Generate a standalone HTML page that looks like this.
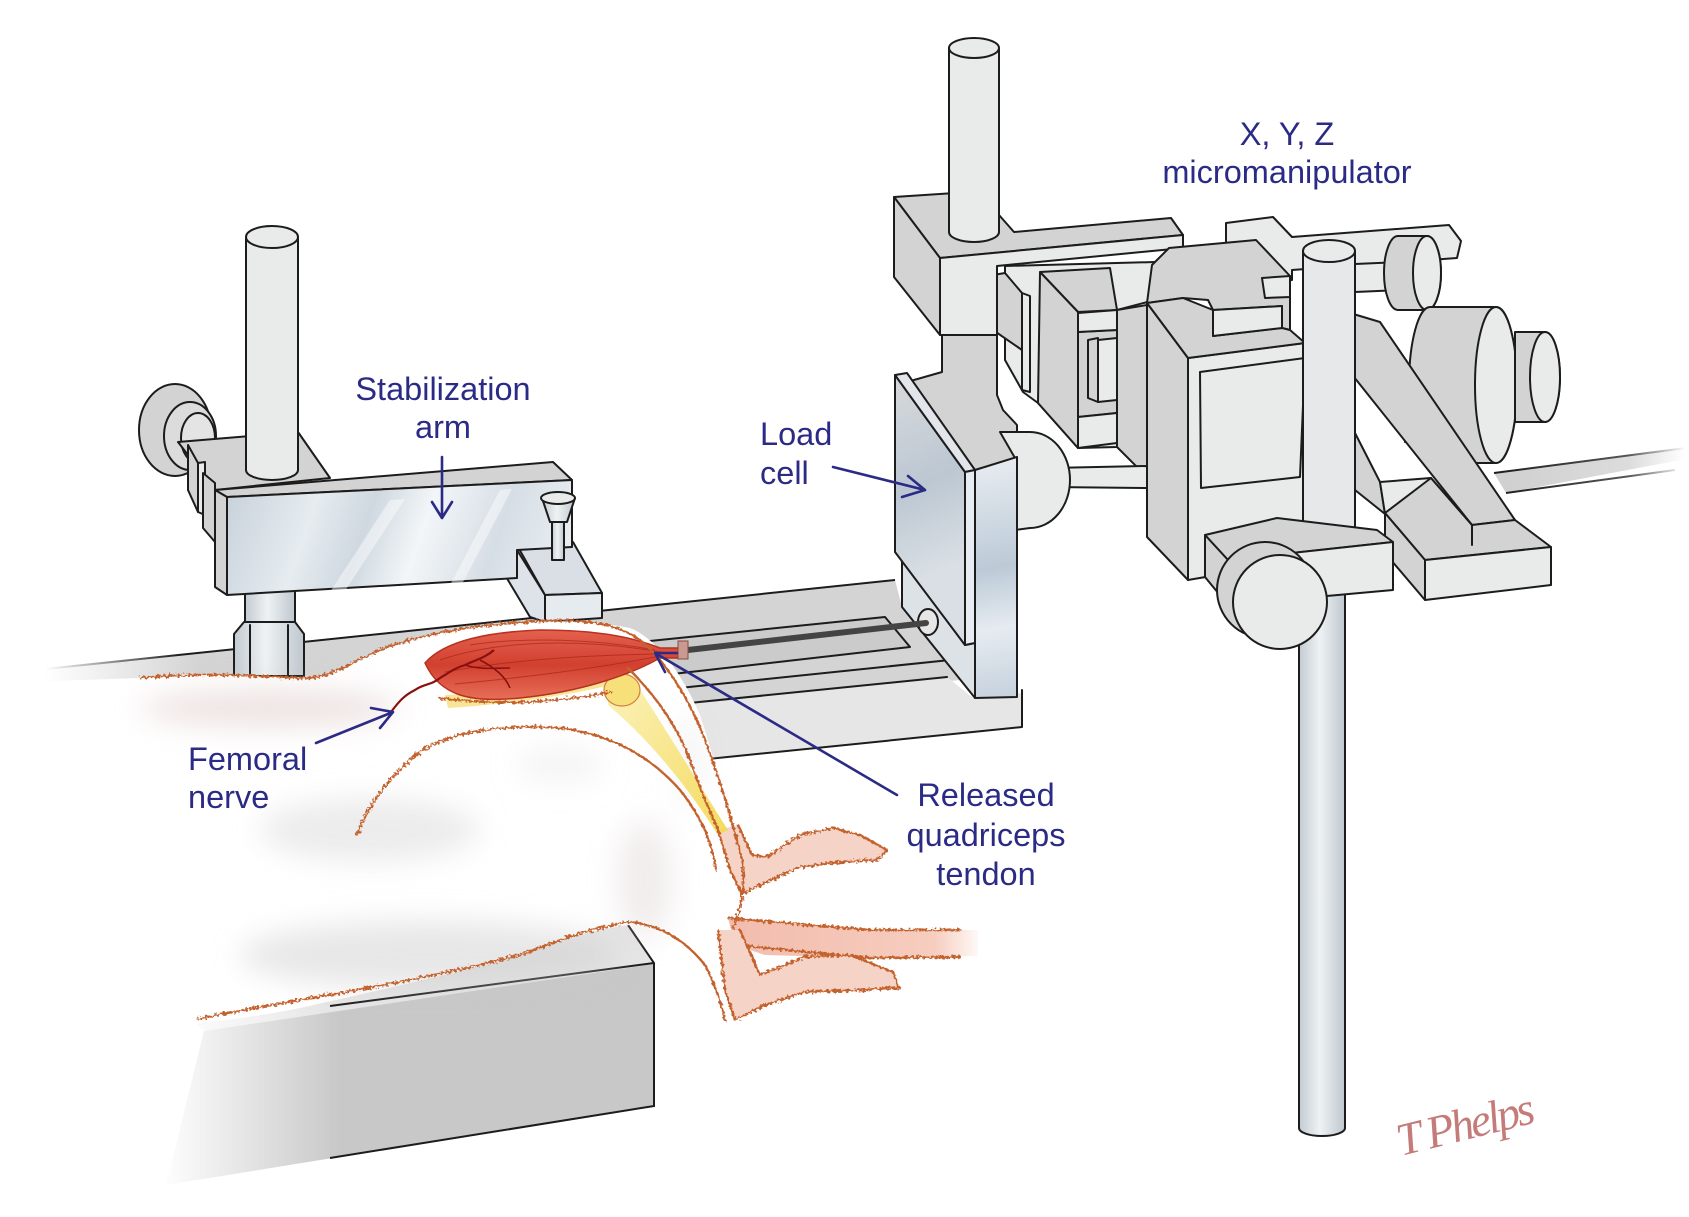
<!DOCTYPE html>
<html><head><meta charset="utf-8">
<style>
html,body{margin:0;padding:0;background:#fff;}
svg{display:block;}
.o{stroke:#1c1c1c;stroke-width:2;stroke-linejoin:round;stroke-linecap:round;}
.l{fill:#e9eaea;}
.m{fill:#d3d3d3;}
.d{fill:#c9c9c9;}
.lab{font-family:"Liberation Sans",Arial,sans-serif;font-size:32.5px;fill:#2b2b86;}
.arr{stroke:#2b2b86;stroke-width:2.6;fill:none;stroke-linecap:round;stroke-linejoin:round;}
.fur{fill:none;stroke:#c4622e;stroke-width:2.4;stroke-linecap:round;}
</style></head>
<body>
<svg width="1689" height="1217" viewBox="0 0 1689 1217" xmlns="http://www.w3.org/2000/svg">
<defs>
<linearGradient id="tblFade" gradientUnits="userSpaceOnUse" x1="160" y1="0" x2="340" y2="0"><stop offset="0" stop-color="#fff"/><stop offset="1" stop-color="#c8c8c8"/></linearGradient>
<linearGradient id="tblTop" gradientUnits="userSpaceOnUse" x1="170" y1="0" x2="330" y2="0"><stop offset="0" stop-color="#fff"/><stop offset="1" stop-color="#e6e6e6"/></linearGradient>
<linearGradient id="plateFade" gradientUnits="userSpaceOnUse" x1="45" y1="0" x2="200" y2="0"><stop offset="0" stop-color="#fff"/><stop offset="1" stop-color="#d4d4d4"/></linearGradient>
<linearGradient id="lineFade" gradientUnits="userSpaceOnUse" x1="45" y1="0" x2="180" y2="0"><stop offset="0" stop-color="#fff"/><stop offset="1" stop-color="#1c1c1c"/></linearGradient>
<linearGradient id="steel" gradientUnits="userSpaceOnUse" x1="227" y1="480" x2="572" y2="600">
<stop offset="0" stop-color="#c7d1da"/><stop offset="0.25" stop-color="#e6ecf0"/><stop offset="0.4" stop-color="#cfd8e0"/><stop offset="0.55" stop-color="#f3f6f8"/><stop offset="0.75" stop-color="#d6dee5"/><stop offset="1" stop-color="#eef2f5"/></linearGradient>
<linearGradient id="cyl" x1="0" y1="0" x2="1" y2="0"><stop offset="0" stop-color="#c3cbd2"/><stop offset="0.45" stop-color="#eef2f4"/><stop offset="1" stop-color="#bfc7ce"/></linearGradient>
<linearGradient id="lcPlate" gradientUnits="userSpaceOnUse" x1="895" y1="400" x2="965" y2="560"><stop offset="0" stop-color="#d2d6da"/><stop offset="0.5" stop-color="#bcc7d2"/><stop offset="1" stop-color="#d9dfe4"/></linearGradient>
<linearGradient id="lcBlock" gradientUnits="userSpaceOnUse" x1="975" y1="460" x2="1017" y2="700"><stop offset="0" stop-color="#e8edf1"/><stop offset="0.45" stop-color="#bccad7"/><stop offset="0.7" stop-color="#e6ebf0"/><stop offset="1" stop-color="#c4d0dc"/></linearGradient>
<linearGradient id="cable" gradientUnits="userSpaceOnUse" x1="1494" y1="0" x2="1686" y2="0"><stop offset="0" stop-color="#cfcfcf"/><stop offset="0.7" stop-color="#dcdcdc"/><stop offset="1" stop-color="#fff"/></linearGradient>
<linearGradient id="cableS" gradientUnits="userSpaceOnUse" x1="1494" y1="0" x2="1686" y2="0"><stop offset="0" stop-color="#1c1c1c"/><stop offset="0.7" stop-color="#555"/><stop offset="1" stop-color="#fff"/></linearGradient>
<linearGradient id="muscle" x1="0" y1="0" x2="0" y2="1"><stop offset="0" stop-color="#e4604e"/><stop offset="0.5" stop-color="#d2402f"/><stop offset="1" stop-color="#e66e58"/></linearGradient>
<linearGradient id="tail" gradientUnits="userSpaceOnUse" x1="730" y1="0" x2="985" y2="0"><stop offset="0" stop-color="#f2bcad"/><stop offset="0.8" stop-color="#f6cdbf"/><stop offset="1" stop-color="#fff"/></linearGradient>
<linearGradient id="bone" x1="0" y1="0" x2="1" y2="1"><stop offset="0" stop-color="#fbf0b0"/><stop offset="1" stop-color="#f3d84e"/></linearGradient>
<filter id="blur" x="-50%" y="-50%" width="200%" height="200%"><feGaussianBlur stdDeviation="14"/></filter>
<filter id="fur" x="-10%" y="-10%" width="120%" height="120%"><feTurbulence type="fractalNoise" baseFrequency="0.35" numOctaves="2" seed="3"/><feDisplacementMap in="SourceGraphic" scale="6"/></filter>
</defs>

<rect width="1689" height="1217" fill="#fff"/>

<!-- ===== right cable ===== -->
<polygon points="1494,473 1686,448 1686,459 1506,493" fill="url(#cable)"/>
<polyline points="1494,473 1686,448" fill="none" stroke="url(#cableS)" stroke-width="2"/>
<polyline points="1506,493 1675,470" fill="none" stroke="url(#cableS)" stroke-width="2"/>

<!-- ===== back rod + knobs ===== -->
<polygon class="o l" points="1226,223 1273,217 1292,237 1449,225 1461,241 1457,258 1292,270 1292,280 1240,282 1226,250"/>
<polygon class="o l" points="1355,264 1400,262 1400,290 1355,292"/>
<path class="o m" d="M1398,236 L1427,236 A14,37 0 0 1 1427,310 L1398,310 A14,37 0 0 1 1398,236 Z"/>
<ellipse class="o l" cx="1427" cy="273" rx="14" ry="37"/>
<rect class="o m" x="1405" y="392" width="75" height="50"/>
<path class="o m" d="M1430,307 L1496,307 A21,78 0 0 1 1496,463 L1430,463 A21,78 0 0 1 1430,307 Z"/>
<ellipse class="o l" cx="1496" cy="385" rx="21" ry="78"/>
<path class="o m" d="M1515,332 L1545,332 A15,45 0 0 1 1545,422 L1515,422 Z"/>
<ellipse class="o l" cx="1545" cy="377" rx="15" ry="45"/>

<!-- ===== rail ===== -->
<polygon class="o m" points="1350,313 1380,322 1515,520 1472,525 1350,372"/>
<polygon class="o m" points="1355,433 1380,482 1385,514 1355,490"/>
<polygon class="o l" points="1380,482 1431,478 1431,510 1385,514"/>
<polygon class="o m" points="1385,513 1431,478 1472,525 1515,520 1551,547 1425,560"/>
<polygon class="o m" points="1385,513 1425,560 1425,600 1385,553"/>
<polygon class="o l" points="1425,560 1551,547 1551,585 1425,600"/>
<polyline class="o" fill="none" points="1431,478 1472,525 1472,545"/>

<!-- ===== frame pieces left of main block ===== -->
<polygon class="o l" points="1005,266 1155,262 1155,300 1117,310 1117,447 1078,448 1038,403 1023,392 1005,360"/>
<polygon class="o m" points="993,275 1005,273 1022,293 1022,350 993,330"/>
<polygon class="o l" points="1022,293 1030,296 1030,392 1022,390"/>
<polygon class="o m" points="1040,272 1110,268 1117,310 1078,312"/>
<polygon class="o m" points="1040,272 1078,312 1078,448 1038,403"/>
<polygon class="o m" points="1078,332 1117,330 1117,413 1078,417"/>
<polygon class="o l" points="1078,313 1117,310 1117,330 1078,332"/>
<polygon class="o l" points="1078,417 1117,413 1117,443 1078,448"/>
<polygon class="o m" points="1088,340 1098,338 1098,402 1088,398"/>
<polygon class="o l" points="1098,340 1117,338 1117,400 1098,402"/>
<polygon class="o m" points="1117,310 1147,305 1147,477 1117,447"/>

<!-- ===== load cell cable ===== -->
<polygon class="o l" points="1050,468 1147,466 1147,488 1050,487"/>

<!-- ===== upper L block + post ===== -->
<polygon class="o m" points="894,197 955,193 999,215 1014,232 1171,218 1183,235 940,258"/>
<polygon class="o l" points="940,258 1183,235 1183,248 997,266 997,335 940,335"/>
<polygon class="o m" points="894,197 940,258 940,335 894,277"/>
<path class="o l" d="M949,48 L999,48 L999,232 A25,10 0 0 1 949,232 Z"/>
<ellipse class="o l" cx="974" cy="48" rx="25" ry="10"/>

<!-- ===== main block ===== -->
<polygon class="o m" points="1147,303 1188,358 1188,580 1147,537"/>
<polygon class="o l" points="1188,358 1305,343 1305,560 1188,580"/>
<polygon class="o l" points="1200,372 1305,358 1300,477 1201,488"/>
<polygon class="o m" points="1152,265 1169,248 1256,240 1290,276 1290,330 1282,328 1282,306 1213,310 1208,300 1183,298 1147,303"/>
<polygon class="o m" points="1147,303 1183,298 1213,310 1213,336 1282,328 1290,330 1305,343 1188,358"/>
<polygon class="o l" points="1213,310 1282,306 1282,328 1213,336"/>
<polygon class="o l" points="1262,278 1290,276 1290,297 1265,298"/>

<!-- ===== lower rod ===== -->
<path d="M1299,540 L1345,540 L1345,1128 A23,8 0 0 1 1299,1128 Z" fill="url(#cyl)" class="o"/>

<!-- ===== post ===== -->
<path d="M1303,251 L1355,251 L1355,533 A26,10 0 0 1 1303,533 Z" fill="#e6e8e9" class="o"/>
<ellipse class="o l" cx="1329" cy="251" rx="26" ry="11"/>

<!-- ===== bottom clamp ===== -->
<polygon class="o m" points="1205,535 1277,518 1377,530 1393,542 1228,560"/>
<polygon class="o l" points="1228,560 1393,542 1393,590 1228,605"/>
<polygon class="o m" points="1205,535 1228,560 1228,605 1205,577"/>
<circle class="o m" cx="1265" cy="590" r="48"/>
<circle class="o l" cx="1280" cy="602" r="47"/>

<!-- ===== base plate ===== -->
<polygon points="45,669 895,580 902,607 960,680 45,775" fill="url(#plateFade)"/>
<polygon points="600,712 947,677 973,698 1022,693 1022,727 600,770" fill="#e6e6e6"/>
<polyline points="45,669 895,580" fill="none" stroke="url(#lineFade)" stroke-width="2"/>
<polyline class="o" fill="none" points="600,712 947,677"/>
<polyline class="o" fill="none" points="600,770 1022,727 1022,690"/>
<polygon class="o" fill="#cbcbcb" points="640,642 885,617 910,647 655,676"/>
<polyline class="o" fill="none" points="660,690 950,660"/>

<!-- ===== load cell ===== -->
<polygon class="o m" points="942,335 997,335 997,395 1003,410 1017,425 1017,458 975,470 907,382 942,372"/>
<path class="o l" d="M1000,432 L1030,432 A40,48 0 0 1 1030,528 L1015,530 L1015,458 Z"/>
<polygon class="o" fill="url(#lcBlock)" points="975,470 1017,457 1017,697 975,698"/>
<polygon class="o" fill="#dde2e6" points="902,560 965,645 975,643 975,698 902,607"/>
<polygon class="o" fill="url(#lcPlate)" points="895,375 965,472 965,645 895,552"/>
<polygon class="o" fill="#e2e6ea" points="895,375 907,373 975,470 965,472"/>
<polygon class="o" fill="#e6ecf1" points="965,472 975,470 975,643 965,645"/>
<ellipse class="o" fill="#e6e6e6" cx="928" cy="622" rx="10" ry="13"/>

<!-- rod -->
<line x1="688" y1="650" x2="926" y2="623" stroke="#444" stroke-width="6" stroke-linecap="round"/>

<!-- ===== stabilization structure ===== -->
<ellipse class="o m" cx="175" cy="430" rx="36" ry="46"/>
<ellipse class="o" fill="#dcdcdc" cx="190" cy="436" rx="26" ry="34"/>
<ellipse class="o" fill="#e4e4e4" cx="198" cy="438" rx="17" ry="25"/>
<polygon class="o m" points="178,442 298,432 330,478 215,490"/>
<polygon class="o m" points="188,445 198,463 198,512 188,490"/>
<polygon class="o l" points="198,463 205,462 205,515 198,512"/>
<polygon class="o m" points="203,473 215,483 215,542 203,528"/>
<path class="o l" d="M246,237 L298,237 L298,470 A26,10 0 0 1 246,470 Z"/>
<ellipse class="o l" cx="272" cy="237" rx="26" ry="11"/>
<!-- support cylinder + hex nut -->
<rect x="245" y="590" width="50" height="40" fill="url(#cyl)" class="o"/>
<polygon class="o" fill="url(#cyl)" points="234,634 244,622 295,622 304,634 304,676 234,676"/>
<line class="o" x1="250" y1="625" x2="250" y2="676"/><line class="o" x1="288" y1="625" x2="288" y2="676"/>
<!-- foot -->
<polygon class="o" fill="#dde3e8" points="502,570 517,550 545,595 545,622 530,617"/>
<polygon class="o" fill="#d9dfe4" points="518,547 573,542 602,593 545,595"/>
<polygon class="o" fill="#e6ebef" points="545,595 602,593 602,618 545,622"/>
<!-- bar -->
<polygon class="o m" points="215,490 553,462 572,480 227,497"/>
<polygon class="o" fill="url(#steel)" points="227,497 572,480 572,547 517,550 517,578 227,595"/>
<polygon points="330,592 390,500 405,499 345,591" fill="#fff" opacity="0.45"/>
<polygon points="450,585 500,490 512,489 462,584" fill="#fff" opacity="0.45"/>
<polygon class="o m" points="215,490 227,497 227,595 215,587"/>
<!-- peg -->
<rect class="o" fill="url(#cyl)" x="552" y="518" width="12" height="42"/>
<polygon class="o" fill="url(#cyl)" points="542,498 575,498 567,522 550,522"/>
<ellipse class="o l" cx="558" cy="498" rx="17" ry="6"/>

<!-- ===== table block bottom-left ===== -->
<polygon points="170,1000 628,925 654,964 204,1031" fill="url(#tblTop)"/>
<polygon points="204,1031 654,964 654,1106 166,1185" fill="url(#tblFade)"/>
<polyline points="628,925 654,963 654,1106 330,1158" fill="none" stroke="#1c1c1c" stroke-width="2"/>
<polyline points="330,1006 654,963" fill="none" stroke="#1c1c1c" stroke-width="2"/>

<!-- ===== rat ===== -->
<path d="M30,682 C80,680 110,679 140,678 C200,672 250,675 290,678 C320,682 340,668 345,668 C380,648 420,635 470,628 C520,620 580,618 630,628 C660,640 685,680 700,715 C715,760 728,810 735,850 C742,890 738,930 728,960 C724,985 726,1005 722,1015 L700,990 C680,960 660,935 630,925 C600,928 560,940 510,958 C450,975 380,990 300,1008 C250,1018 210,1022 180,1025 C120,1010 60,990 30,960 Z" fill="#fff"/>
<g filter="url(#blur)">
<ellipse cx="270" cy="708" rx="130" ry="20" fill="#d9c6c0" opacity="0.45"/>
<ellipse cx="370" cy="830" rx="110" ry="32" fill="#cfcfcf" opacity="0.4"/>
<ellipse cx="430" cy="955" rx="190" ry="34" fill="#cacaca" opacity="0.45"/>
<ellipse cx="645" cy="880" rx="28" ry="60" fill="#d6cccc" opacity="0.35"/>
<ellipse cx="560" cy="765" rx="45" ry="18" fill="#d4d4d4" opacity="0.25"/>
<ellipse cx="690" cy="760" rx="15" ry="50" fill="#ddd" opacity="0.3"/>
</g>

<!-- tail & legs -->
<polygon points="728,918 870,930 978,930 978,956 870,958 765,955 735,945" fill="url(#tail)"/>
<polyline class="fur" filter="url(#fur)" points="728,918 870,930 960,930"/>
<polyline class="fur" filter="url(#fur)" points="735,945 870,958 960,957"/>
<polygon points="718,830 738,825 752,855 767,857 800,835 833,828 860,835 887,850 877,860 840,862 800,867 760,885 742,894 730,870" fill="#f6d3c7"/>
<polyline class="fur" filter="url(#fur)" points="718,830 730,870 742,894 760,885 800,867 840,862 877,860 887,850 860,835 833,828 800,835 767,857 752,855 738,825"/>
<polygon points="718,930 740,930 760,975 805,957 850,955 893,972 899,988 860,990 805,992 765,1005 735,1020 725,990" fill="#f6d3c7"/>
<polyline class="fur" filter="url(#fur)" points="718,930 725,990 735,1020 765,1005 805,992 860,990 899,988 893,972 850,955 805,957 760,975 740,930"/>

<!-- bone -->
<path d="M608,695 L640,690 C660,720 690,770 728,830 L718,835 C690,790 650,740 608,705 Z" fill="url(#bone)" opacity="0.9"/>
<path d="M445,695 C500,692 570,680 615,668 L628,680 C580,695 500,705 448,708 Z" fill="#f8e696"/>
<ellipse cx="622" cy="690" rx="18" ry="16" fill="#f7e07a" stroke="#d08040" stroke-width="1.2"/>

<!-- muscle -->
<path d="M425,663 C445,640 490,632 540,630 C600,630 635,638 660,648 L680,648 L680,658 L660,658 C630,675 580,692 520,698 C470,703 440,696 425,663 Z" fill="url(#muscle)" stroke="#b8321f" stroke-width="1.5"/>
<g stroke="#a82618" stroke-width="1" fill="none" opacity="0.7">
<path d="M440,660 C500,640 580,638 660,652"/><path d="M445,672 C510,660 590,655 660,654"/><path d="M455,684 C520,678 600,668 660,656"/><path d="M470,645 C530,636 600,640 655,650"/></g>
<rect x="678" y="641" width="10" height="18" fill="#c99a92" stroke="#8a4a40" stroke-width="1"/>
<!-- nerve -->
<path d="M391,712 C400,700 405,695 415,690 C425,683 430,686 440,678 C450,672 455,668 465,665 C475,660 485,658 494,650" fill="none" stroke="#8a1010" stroke-width="2.2"/>
<path d="M465,665 C480,670 495,668 510,668 M480,660 C495,668 505,676 510,688" fill="none" stroke="#8a1010" stroke-width="1.6"/>

<!-- fur outlines -->
<g filter="url(#fur)">
<path class="fur" d="M140,678 C200,672 260,676 300,678 C330,680 350,662 385,648 C430,632 480,624 540,621 C580,619 615,622 640,640 C665,660 690,700 705,740 C720,780 732,820 742,860"/>
<path class="fur" d="M357,835 C370,800 395,770 425,748 C460,730 510,724 560,728 C610,734 650,756 680,790 C700,815 712,840 716,870"/>
<path class="fur" d="M198,1019 C250,1008 300,1000 357,990 C420,978 470,968 520,955 C560,940 590,928 630,922 C660,925 685,940 705,965 C715,985 720,1000 725,1020"/>
<path class="fur" d="M628,668 C650,690 675,720 690,760 C700,790 712,815 720,835"/>
<path class="fur" d="M440,698 C500,706 560,702 612,692"/>
<path class="fur" d="M742,860 C746,885 742,905 733,928"/>
</g>

<!-- ===== labels ===== -->
<text class="lab" x="1287" y="145" text-anchor="middle">X, Y, Z</text>
<text class="lab" x="1287" y="183" text-anchor="middle">micromanipulator</text>
<text class="lab" x="443" y="400" text-anchor="middle">Stabilization</text>
<text class="lab" x="443" y="438" text-anchor="middle">arm</text>
<text class="lab" x="760" y="445">Load</text>
<text class="lab" x="760" y="484">cell</text>
<text class="lab" x="188" y="770">Femoral</text>
<text class="lab" x="188" y="808">nerve</text>
<text class="lab" x="986" y="806" text-anchor="middle">Released</text>
<text class="lab" x="986" y="846" text-anchor="middle">quadriceps</text>
<text class="lab" x="986" y="885" text-anchor="middle">tendon</text>

<!-- arrows -->
<path class="arr" d="M442,457 L442,518 M432,502 L442,518 L452,502"/>
<path class="arr" d="M833,467 L925,490 M908,476 L925,490 L902,497"/>
<path class="arr" d="M316,743 L393,712 M371,708 L393,712 L380,728"/>
<path class="arr" d="M897,795 L655,653 M677,653 L655,653 L665,672"/>

<!-- signature -->
<text x="1395" y="1142" transform="rotate(-14 1455 1125)" font-family="'Liberation Serif',serif" font-style="italic" font-size="46" fill="#c47c7a" letter-spacing="-3">T Phelps</text>
</svg>
</body></html>
